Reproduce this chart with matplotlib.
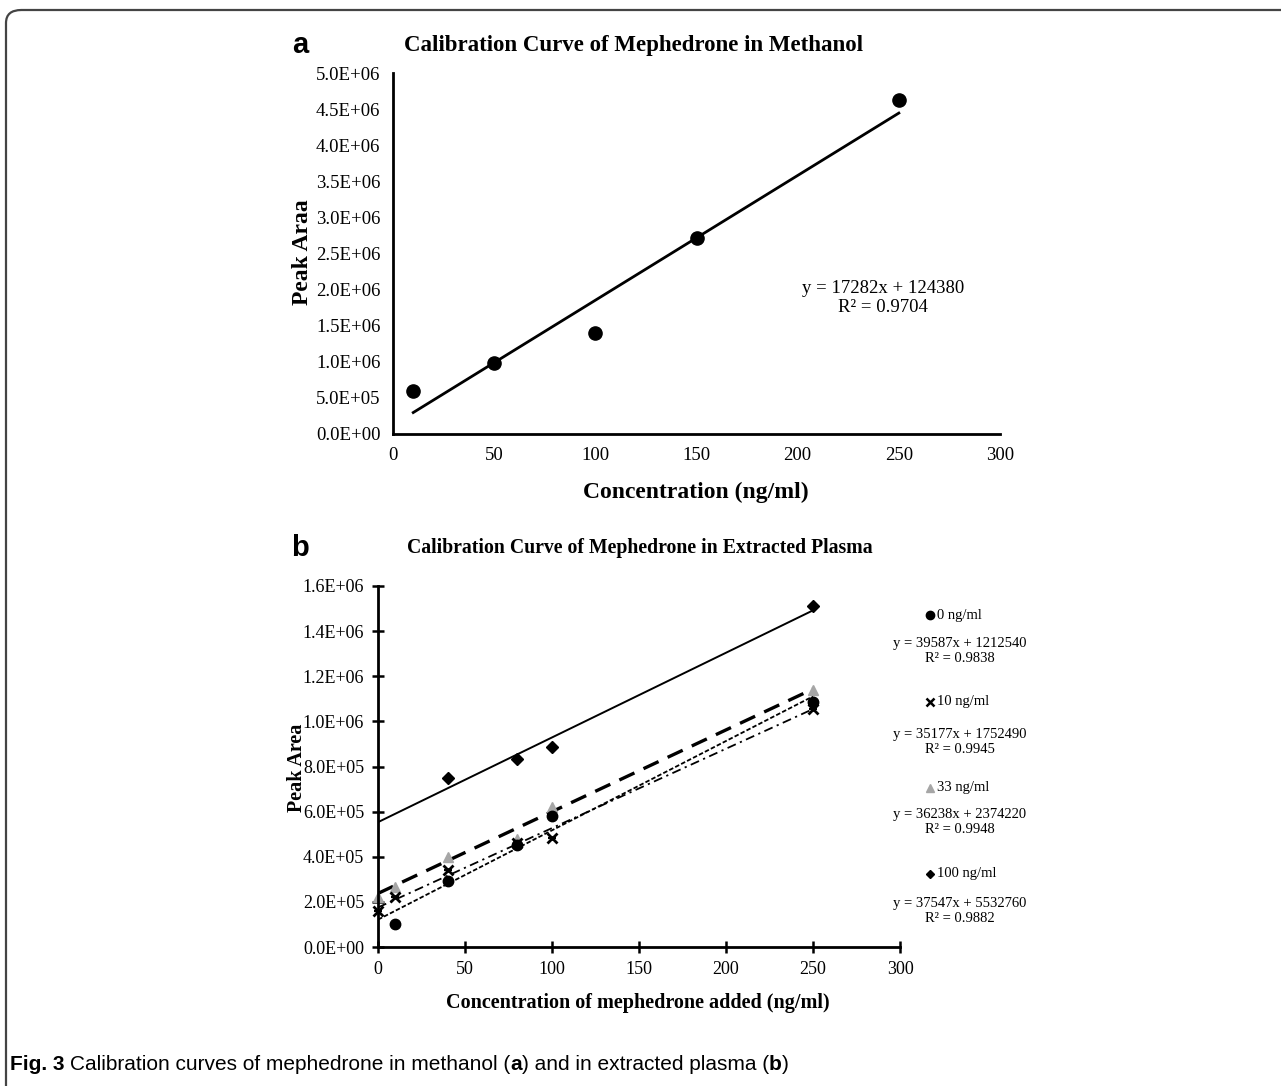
import matplotlib
matplotlib.use("Agg")
import matplotlib.pyplot as plt
from matplotlib.lines import Line2D
from matplotlib.patches import FancyBboxPatch
from matplotlib.ticker import FuncFormatter

# ---------------- data ----------------
# Panel a: mephedrone in methanol
conc_a = [10, 50, 100, 150, 250]
area_a = [5.9e5, 9.9e5, 1.40e6, 2.72e6, 4.62e6]
slope_a, icpt_a = 17282, 124380
fit_a_x = [10, 250]

# Panel b: extracted plasma (x = concentration of mephedrone added)
x0 = [10, 40, 80, 100, 250]
y0 = [1.02e5, 2.92e5, 4.52e5, 5.80e5, 1.087e6]
x10 = [0, 10, 40, 80, 100, 250]
y10 = [1.60e5, 2.20e5, 3.40e5, 4.60e5, 4.82e5, 1.057e6]
x33 = [0, 10, 40, 80, 100, 250]
y33 = [2.22e5, 2.65e5, 3.98e5, 4.78e5, 6.20e5, 1.140e6]
x100 = [40, 80, 100, 250]
y100 = [7.47e5, 8.33e5, 8.85e5, 1.510e6]
fits_b = {"0": (3958.7, 121254), "10": (3517.7, 175249),
          "33": (3623.8, 237422), "100": (3754.7, 553276)}
fit_b_x = [0, 250]
legend_labels = ["0 ng/ml", "10 ng/ml", "33 ng/ml", "100 ng/ml"]
legend_eqs = ["y = 39587x + 1212540", "y = 35177x + 1752490",
              "y = 36238x + 2374220", "y = 37547x + 5532760"]
legend_r2 = ["R² = 0.9838", "R² = 0.9945", "R² = 0.9948", "R² = 0.9882"]

W, H = 1281, 1086
SERIF = "Liberation Serif"
GRAY = "#a6a6a6"

def fx(px):
    return px / W

def fy(py):
    return 1 - py / H

fig = plt.figure(figsize=(W / 100, H / 100), dpi=100)
fig.patch.set_facecolor("white")

# rounded frame
frame = FancyBboxPatch((fx(6), fy(1120)), fx(1320), (1120 - 10) / H,
                       boxstyle="round,pad=0,rounding_size=0.012",
                       transform=fig.transFigure, fill=False,
                       edgecolor="#444444", linewidth=1.6, clip_on=False)
fig.add_artist(frame)

sci = FuncFormatter(lambda v, p: f"{v:.1E}")

# ---------------- panel a ----------------
axa = fig.add_axes([fx(393), fy(434), fx(1000) - fx(393), fy(73) - fy(434)])
axa.set_xlim(0, 300)
axa.set_ylim(0, 5e6)
axa.set_xticks(range(0, 301, 50))
axa.set_yticks([i * 5e5 for i in range(11)])
axa.yaxis.set_major_formatter(sci)
for s in ["top", "right"]:
    axa.spines[s].set_visible(False)
for s in ["left", "bottom"]:
    axa.spines[s].set_linewidth(2.0)
axa.tick_params(length=0, pad=9, labelsize=13.5)
for lab in axa.get_xticklabels() + axa.get_yticklabels():
    lab.set_fontfamily(SERIF)
axa.plot(fit_a_x, [slope_a * x + icpt_a for x in fit_a_x], color="black", lw=2.0)
axa.plot(conc_a, area_a, "o", color="black", ms=9.5, clip_on=False)
axa.text(242, 1.88e6, f"y = {slope_a}x + {icpt_a}\nR² = 0.9704", ha="center",
         va="center", fontsize=13.5, family=SERIF, linespacing=1.15)

fig.text(fx(300), fy(45), "a", fontsize=21, fontweight="bold",
         family="Liberation Sans", ha="center", va="center")
fig.text(fx(634), fy(45), "Calibration Curve of Mephedrone in Methanol",
         fontsize=16.5, fontweight="bold", family=SERIF, ha="center", va="center")
fig.text(fx(696), fy(492), "Concentration (ng/ml)", fontsize=17,
         fontweight="bold", family=SERIF, ha="center", va="center")
fig.text(fx(303), fy(252), "Peak Araa", fontsize=17, fontweight="bold",
         family=SERIF, ha="center", va="center", rotation=90)

# ---------------- panel b ----------------
axb = fig.add_axes([fx(378), fy(947), fx(900) - fx(378), fy(586) - fy(947)])
axb.set_xlim(0, 300)
axb.set_ylim(0, 1.6e6)
axb.set_xticks(range(0, 301, 50))
axb.set_yticks([i * 2e5 for i in range(9)])
axb.yaxis.set_major_formatter(sci)
for s in ["top", "right"]:
    axb.spines[s].set_visible(False)
for s in ["left", "bottom"]:
    axb.spines[s].set_linewidth(2.0)
axb.tick_params(direction="inout", length=8, width=1.8, pad=6, labelsize=13)
for lab in axb.get_xticklabels() + axb.get_yticklabels():
    lab.set_fontfamily(SERIF)

def fitline(key):
    m, c = fits_b[key]
    return [m * x + c for x in fit_b_x]

axb.plot(fit_b_x, fitline("100"), color="black", lw=1.4, solid_capstyle="butt")
axb.plot(fit_b_x, fitline("33"), color="black", lw=2.4, dashes=(5, 3))
axb.plot(fit_b_x, fitline("0"), color="black", lw=1.3, dashes=(2.5, 1.2))
axb.plot(fit_b_x, fitline("10"), color="black", lw=1.3, dashes=(5, 2.5, 1.2, 2.5))

axb.plot(x100, y100, "D", color="black", ms=6, clip_on=False)
axb.plot(x33, y33, "^", color=GRAY, ms=7.5, clip_on=False)
axb.plot(x0, y0, "o", color="black", ms=7.5, clip_on=False)
axb.plot(x10, y10, "x", color="black", ms=7, mew=2.0, clip_on=False)
axb.plot(x10, y10, "_", color="black", ms=6, mew=1.6, clip_on=False)

fig.text(fx(300), fy(548), "b", fontsize=21, fontweight="bold",
         family="Liberation Sans", ha="center", va="center")
fig.text(fx(640), fy(548), "Calibration Curve of Mephedrone in Extracted Plasma",
         fontsize=14.2, fontweight="bold", family=SERIF, ha="center", va="center")
fig.text(fx(638), fy(1003), "Concentration of mephedrone added (ng/ml)",
         fontsize=14.5, fontweight="bold", family=SERIF, ha="center", va="center")
fig.text(fx(297), fy(768), "Peak Area", fontsize=14.5, fontweight="bold",
         family=SERIF, ha="center", va="center", rotation=90)

# legend-like labels on the right of panel b
leg_y = [615, 702, 788, 874]
eq_y = [643, 734, 814, 903]
markers = [dict(marker="o", color="black", ms=6),
           dict(marker="x", color="black", ms=5.5, mew=1.8),
           dict(marker="^", color=GRAY, ms=5.5),
           dict(marker="D", color="black", ms=4.5)]
for i in range(4):
    fig.add_artist(Line2D([fx(930)], [fy(leg_y[i])], linestyle="none",
                          transform=fig.transFigure, **markers[i]))
    fig.text(fx(937), fy(leg_y[i]), legend_labels[i], fontsize=10.5,
             family=SERIF, ha="left", va="center")
    fig.text(fx(960), fy(eq_y[i] + 8), legend_eqs[i] + "\n" + legend_r2[i],
             fontsize=10.5, family=SERIF, ha="center", va="center",
             linespacing=1.2)

# caption
CAP = 15
t1 = fig.text(fx(10), fy(1065), "Fig. 3", fontsize=CAP, fontweight="bold",
              family="Liberation Sans", ha="left", va="center")
fig.canvas.draw()
bb = t1.get_window_extent()
parts = [("Calibration curves of mephedrone in methanol (", "normal"),
         ("a", "bold"), (") and in extracted plasma (", "normal"),
         ("b", "bold"), (")", "normal")]
xpos = bb.x1 + 5
for txt, wgt in parts:
    t = fig.text(xpos / W, fy(1065), txt, fontsize=CAP, fontweight=wgt,
                 family="Liberation Sans", ha="left", va="center")
    fig.canvas.draw()
    xpos = t.get_window_extent().x1

fig.savefig("out.png", dpi=100, facecolor="white")
